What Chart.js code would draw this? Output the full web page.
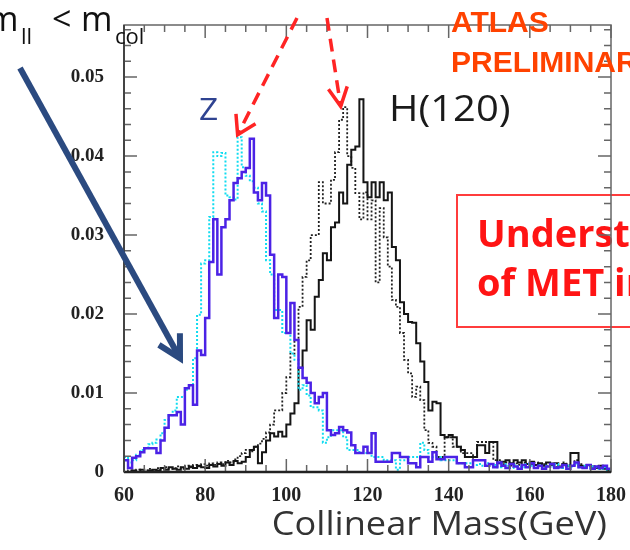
<!DOCTYPE html>
<html>
<head>
<meta charset="utf-8">
<script src="https://cdn.jsdelivr.net/npm/chart.js@4.4.1/dist/chart.umd.min.js"></script>
<style>
  html, body { margin: 0; padding: 0; background: #fff; }
  canvas { display: block; }
</style>
</head>
<body>
<canvas id="massChart" width="630" height="550"></canvas>
<script>
// histogram binning: 1 GeV bins from 60 to 180 GeV
const BIN_START = 60;
const BIN_WIDTH = 1;

const xTicks = [60, 80, 100, 120, 140, 160, 180];
const yTicks = [0, 0.01, 0.02, 0.03, 0.04, 0.05];

// Z -> tautau, m_ll < m_col (solid)
const zSolid = [
  0.0015, 0.0005, 0.0018, 0.0020, 0.0025, 0.0030, 0.0030, 0.0030, 0.0024, 0.0040,
  0.0056, 0.0072, 0.0072, 0.0076, 0.0060, 0.0106, 0.0110, 0.0085, 0.0154, 0.0148,
  0.0195, 0.0266, 0.0320, 0.0250, 0.0310, 0.0320, 0.0344, 0.0366, 0.0372, 0.0380,
  0.0385, 0.0422, 0.0354, 0.0344, 0.0366, 0.0350, 0.0275, 0.0195, 0.0250, 0.0247,
  0.0176, 0.0214, 0.0167, 0.0132, 0.0119, 0.0113, 0.0100, 0.0087, 0.0095, 0.0100,
  0.0053, 0.0047, 0.0049, 0.0057, 0.0053, 0.0050, 0.0034, 0.0024, 0.0024, 0.0032,
  0.0024, 0.0049, 0.0013, 0.0013, 0.0013, 0.0013, 0.0024, 0.0024, 0.0019, 0.0019,
  0.0011, 0.0011, 0.0006, 0.0019, 0.0019, 0.0013, 0.0025, 0.0016, 0.0016, 0.0019,
  0.0019, 0.0019, 0.0011, 0.0011, 0.0006, 0.0006, 0.0015, 0.0015, 0.0015, 0.0008,
  0.0010, 0.0006, 0.0012, 0.0008, 0.0005, 0.0010, 0.0007, 0.0004, 0.0009, 0.0006,
  0.0011, 0.0005, 0.0008, 0.0004, 0.0007, 0.0010, 0.0005, 0.0006, 0.0009, 0.0004,
  0.0008, 0.0012, 0.0006, 0.0005, 0.0009, 0.0004, 0.0007, 0.0005, 0.0008, 0.0004
];

// Z -> tautau, all events (dotted)
const zDotted = [
  0.0019, 0.0012, 0.0015, 0.0022, 0.0028, 0.0030, 0.0035, 0.0037, 0.0041, 0.0049,
  0.0066, 0.0072, 0.0078, 0.0095, 0.0095, 0.0104, 0.0110, 0.0144, 0.0199, 0.0264,
  0.0268, 0.0323, 0.0405, 0.0400, 0.0404, 0.0350, 0.0348, 0.0345, 0.0424, 0.0386,
  0.0375, 0.0368, 0.0360, 0.0340, 0.0330, 0.0268, 0.0250, 0.0205, 0.0205, 0.0176,
  0.0176, 0.0150, 0.0142, 0.0104, 0.0110, 0.0097, 0.0082, 0.0082, 0.0078, 0.0037,
  0.0044, 0.0053, 0.0053, 0.0053, 0.0044, 0.0028, 0.0028, 0.0028, 0.0024, 0.0024,
  0.0024, 0.0019, 0.0019, 0.0019, 0.0015, 0.0015, 0.0015, 0.0003, 0.0015, 0.0015,
  0.0019, 0.0019, 0.0019, 0.0037, 0.0028, 0.0019, 0.0019, 0.0019, 0.0015, 0.0015,
  0.0015, 0.0015, 0.0011, 0.0011, 0.0011, 0.0011, 0.0009, 0.0010, 0.0008, 0.0011,
  0.0007, 0.0009, 0.0006, 0.0010, 0.0008, 0.0005, 0.0009, 0.0007, 0.0006, 0.0010,
  0.0008, 0.0006, 0.0009, 0.0005, 0.0008, 0.0007, 0.0010, 0.0006, 0.0005, 0.0008,
  0.0007, 0.0010, 0.0006, 0.0008, 0.0005, 0.0007, 0.0006, 0.0004, 0.0006, 0.0003
];

// H(120) -> tautau, m_ll < m_col (solid)
const hSolid = [
  0.0000, 0.0000, 0.0002, 0.0000, 0.0003, 0.0000, 0.0002, 0.0003, 0.0002, 0.0005,
  0.0003, 0.0006, 0.0004, 0.0003, 0.0006, 0.0004, 0.0007, 0.0005, 0.0008, 0.0006,
  0.0005, 0.0009, 0.0007, 0.0010, 0.0008, 0.0012, 0.0009, 0.0014, 0.0011, 0.0013,
  0.0019, 0.0028, 0.0032, 0.0011, 0.0025, 0.0040, 0.0049, 0.0045, 0.0051, 0.0045,
  0.0060, 0.0074, 0.0087, 0.0132, 0.0154, 0.0192, 0.0180, 0.0222, 0.0243, 0.0277,
  0.0268, 0.0310, 0.0316, 0.0354, 0.0340, 0.0389, 0.0408, 0.0412, 0.0472, 0.0367,
  0.0348, 0.0367, 0.0348, 0.0367, 0.0344, 0.0354, 0.0285, 0.0268, 0.0215, 0.0200,
  0.0190, 0.0189, 0.0163, 0.0140, 0.0114, 0.0078, 0.0089, 0.0087, 0.0047, 0.0044,
  0.0047, 0.0044, 0.0032, 0.0028, 0.0019, 0.0019, 0.0019, 0.0034, 0.0034, 0.0024,
  0.0038, 0.0038, 0.0011, 0.0013, 0.0015, 0.0011, 0.0015, 0.0012, 0.0015, 0.0010,
  0.0013, 0.0009, 0.0011, 0.0008, 0.0012, 0.0009, 0.0011, 0.0007, 0.0010, 0.0008,
  0.0024, 0.0024, 0.0008, 0.0006, 0.0009, 0.0007, 0.0005, 0.0008, 0.0004, 0.0003
];

// H(120) -> tautau, all events (dashed)
const hDashed = [
  0.0000, 0.0002, 0.0000, 0.0003, 0.0000, 0.0002, 0.0004, 0.0002, 0.0005, 0.0003,
  0.0006, 0.0004, 0.0005, 0.0007, 0.0004, 0.0008, 0.0006, 0.0009, 0.0007, 0.0010,
  0.0008, 0.0011, 0.0009, 0.0012, 0.0010, 0.0014, 0.0012, 0.0016, 0.0020, 0.0024,
  0.0028, 0.0026, 0.0032, 0.0036, 0.0042, 0.0050, 0.0060, 0.0078, 0.0078, 0.0100,
  0.0120, 0.0150, 0.0167, 0.0209, 0.0247, 0.0268, 0.0300, 0.0300, 0.0367, 0.0340,
  0.0340, 0.0370, 0.0405, 0.0446, 0.0462, 0.0400, 0.0385, 0.0353, 0.0320, 0.0354,
  0.0320, 0.0344, 0.0240, 0.0334, 0.0297, 0.0260, 0.0218, 0.0209, 0.0176, 0.0142,
  0.0125, 0.0095, 0.0108, 0.0091, 0.0053, 0.0037, 0.0032, 0.0019, 0.0019, 0.0044,
  0.0044, 0.0032, 0.0032, 0.0024, 0.0024, 0.0024, 0.0015, 0.0038, 0.0038, 0.0038,
  0.0038, 0.0015, 0.0015, 0.0010, 0.0012, 0.0008, 0.0011, 0.0009, 0.0012, 0.0008,
  0.0010, 0.0012, 0.0007, 0.0010, 0.0008, 0.0011, 0.0006, 0.0009, 0.0012, 0.0007,
  0.0009, 0.0015, 0.0010, 0.0007, 0.0008, 0.0005, 0.0007, 0.0004, 0.0006, 0.0003
];

// turn bin contents into step points (low edges + closing point at the last high edge)
function toSteps(values) {
  const pts = values.map((v, i) => ({ x: BIN_START + i * BIN_WIDTH, y: v }));
  pts.push({ x: BIN_START + values.length * BIN_WIDTH, y: values[values.length - 1] });
  return pts;
}

function histo(values, color, width, dash) {
  return {
    data: toSteps(values),
    borderColor: color,
    borderWidth: width,
    borderDash: dash,
    stepped: true,
    pointRadius: 0,
    fill: false
  };
}

function drawText(ctx, str, x, y, font, color, sx, align) {
  ctx.save();
  ctx.font = font;
  ctx.fillStyle = color;
  ctx.textAlign = align || 'left';
  ctx.textBaseline = 'alphabetic';
  ctx.translate(x, y);
  ctx.scale(sx || 1, 1);
  ctx.fillText(str, 0, 0);
  ctx.restore();
}

// shaft from (x1,y1) to the tip (x2,y2), open V head
function drawArrow(ctx, x1, y1, x2, y2, opts) {
  const ang = Math.atan2(y2 - y1, x2 - x1);
  ctx.save();
  ctx.strokeStyle = opts.color;
  ctx.lineWidth = opts.width;
  ctx.lineCap = 'butt';
  ctx.setLineDash(opts.dash || []);
  ctx.beginPath();
  ctx.moveTo(x1, y1);
  ctx.lineTo(x2, y2);
  ctx.stroke();
  ctx.setLineDash([]);
  ctx.lineJoin = 'miter';
  ctx.beginPath();
  ctx.moveTo(x2 - opts.head * Math.cos(ang - opts.spread), y2 - opts.head * Math.sin(ang - opts.spread));
  ctx.lineTo(x2, y2);
  ctx.lineTo(x2 - opts.head * Math.cos(ang + opts.spread), y2 - opts.head * Math.sin(ang + opts.spread));
  ctx.stroke();
  ctx.restore();
}

const decorations = {
  id: 'decorations',
  afterDraw(chart) {
    const { ctx, chartArea: a } = chart;
    const xs = chart.scales.x, ys = chart.scales.y;

    // red box on the right, partly off the canvas
    ctx.save();
    ctx.strokeStyle = '#ff3c3c';
    ctx.lineWidth = 2;
    ctx.strokeRect(457, 195, 220, 132);
    ctx.restore();
    drawText(ctx, 'Understanding', 477, 247, 'bold 38px "Open Sans"', '#ff1414');
    drawText(ctx, 'of MET in', 477, 296, 'bold 38px "Open Sans"', '#ff1414');

    // ROOT style frame with inward ticks
    ctx.save();
    ctx.strokeStyle = '#666';
    ctx.lineWidth = 1.5;
    ctx.strokeRect(a.left, a.top, a.right - a.left, a.bottom - a.top);
    ctx.beginPath();
    for (let v = xs.min; v <= xs.max; v += 5) {
      const px = xs.getPixelForValue(v);
      const len = v % 20 === 0 ? 13 : 7;
      ctx.moveTo(px, a.bottom); ctx.lineTo(px, a.bottom - len);
      ctx.moveTo(px, a.top); ctx.lineTo(px, a.top + len);
    }
    for (let i = 0; i * 0.002 <= ys.max; i++) {
      const py = ys.getPixelForValue(i * 0.002);
      const len = i % 5 === 0 ? 13 : 7;
      ctx.moveTo(a.left, py); ctx.lineTo(a.left + len, py);
      ctx.moveTo(a.right, py); ctx.lineTo(a.right - len, py);
    }
    ctx.stroke();
    ctx.strokeStyle = '#222';
    ctx.lineWidth = 2.5;
    ctx.beginPath();
    ctx.moveTo(a.left, a.bottom); ctx.lineTo(a.right, a.bottom);
    ctx.stroke();
    ctx.strokeStyle = '#444';
    ctx.lineWidth = 2;
    ctx.beginPath();
    ctx.moveTo(a.left, a.top); ctx.lineTo(a.left, a.bottom);
    ctx.stroke();
    ctx.restore();

    // labels
    drawText(ctx, 'm', -13, 31, '34px "Open Sans"', '#111');
    drawText(ctx, 'll', 21, 44, '22px "Open Sans"', '#111');
    drawText(ctx, '<', 52, 31, '34px "Open Sans"', '#111');
    drawText(ctx, 'm', 81, 31, '34px "Open Sans"', '#111');
    drawText(ctx, 'col', 115, 44, '22px "Open Sans"', '#111');

    drawText(ctx, 'ATLAS', 451, 32, 'bold 30px "Liberation Sans"', '#ff4200');
    drawText(ctx, 'PRELIMINARY', 451, 72, 'bold 30px "Liberation Sans"', '#ff4200');

    drawText(ctx, 'Z', 199, 120, '31px "Open Sans"', '#2f4391', 1.08);
    drawText(ctx, 'H(120)', 389, 121, '37px "Open Sans"', '#1a1a1a', 1.08);

    drawText(ctx, 'Collinear Mass(GeV)', 607, 535, '32px "Open Sans"', '#333', 1.13, 'right');

    // arrows
    drawArrow(ctx, 20, 68, xs.getPixelForValue(73.8), ys.getPixelForValue(0.0144),
      { color: '#2b4a80', width: 6, head: 25, spread: 0.5 });
    drawArrow(ctx, 297, 18, xs.getPixelForValue(88.0), ys.getPixelForValue(0.0427),
      { color: '#ff2424', width: 3.5, head: 21, spread: 0.55, dash: [13, 8] });
    drawArrow(ctx, 327, 18, xs.getPixelForValue(113.4), ys.getPixelForValue(0.0463),
      { color: '#ff2424', width: 3.5, head: 21, spread: 0.47, dash: [13, 8] });
  }
};

new Chart(document.getElementById('massChart'), {
  type: 'line',
  data: {
    datasets: [
      histo(zSolid, '#4b22e6', 2.5, []),
      histo(zDotted, '#10dcf0', 2, [2, 2]),
      histo(hSolid, '#151515', 2, []),
      histo(hDashed, '#202020', 1.8, [2, 2])
    ]
  },
  options: {
    responsive: false,
    animation: false,
    devicePixelRatio: 1,
    layout: { padding: { top: 25, right: 18, left: 0, bottom: 0 } },
    plugins: { legend: { display: false }, tooltip: { enabled: false } },
    scales: {
      x: {
        type: 'linear',
        min: 60,
        max: 180,
        grid: { display: false },
        border: { display: false },
        afterBuildTicks: (scale) => { scale.ticks = xTicks.map(v => ({ value: v })); },
        afterFit: (scale) => { scale.height = 78; },
        ticks: {
          padding: 4,
          maxRotation: 0,
          autoSkip: false,
          color: '#222',
          font: { family: 'Liberation Serif', weight: 'bold', size: 20 }
        }
      },
      y: {
        min: 0,
        max: 0.0566,
        grid: { display: false },
        border: { display: false },
        afterBuildTicks: (scale) => { scale.ticks = yTicks.map(v => ({ value: v })); },
        afterFit: (scale) => { scale.width = 124; },
        ticks: {
          padding: 12,
          color: '#222',
          font: { family: 'Liberation Serif', weight: 'bold', size: 19 },
          callback: (v) => v === 0 ? '0' : v.toFixed(2)
        }
      }
    }
  },
  plugins: [decorations]
});
</script>
</body>
</html>
